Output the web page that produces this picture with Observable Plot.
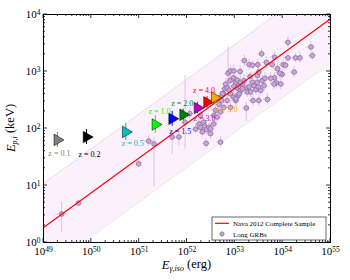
<!DOCTYPE html>
<html><head><meta charset="utf-8">
<script src="https://cdn.jsdelivr.net/npm/d3@7"></script>
<script src="https://cdn.jsdelivr.net/npm/@observablehq/plot@0.6"></script>
<style>
body{margin:0;background:#fff;}
#wrap{position:relative;width:350px;height:280px;}
</style></head><body><div id="wrap"></div>
<script>
// ---- Long GRB sample (log10 E_iso [erg], log10 Ep,i [keV])
const grbLogE = [49.38,49.73,50.99,51.20,51.31,51.69,51.83,51.96,52.06,52.18,52.25,52.28,52.35,52.37,52.41,52.46,52.49,52.32,52.40,52.28,
  52.56,52.60,52.67,52.70,52.72,52.76,52.79,52.81,52.84,52.86,52.91,52.98,52.90,52.97,53.02,52.98,53.05,52.91,52.98,52.84,
  52.77,52.70,52.63,52.56,52.91,53.02,53.07,53.12,53.09,53.16,53.19,53.25,53.26,53.20,53.30,53.32,53.37,53.40,53.44,53.47,
  53.50,53.38,53.24,53.48,53.56,53.66,53.68,53.57,53.61,53.54,53.78,53.83,53.83,53.87,53.96,53.99,53.94,54.01,54.06,54.11,
  54.11,54.24,54.27,54.36,54.59,54.62,53.89,53.82,53.75,53.63,53.47,53.49,53.11,53.37,53.05,53.12,53.30,53.33,52.88,53.50,
  52.74,53.02,53.09,53.16,52.49,52.70];
const grbLogEp = [0.50,0.69,1.38,1.78,1.73,1.85,1.85,2.11,2.26,1.99,2.08,2.02,2.11,2.04,1.98,2.02,1.99,1.94,1.74,2.23,
  2.23,2.32,2.42,2.55,2.49,2.61,2.70,2.78,2.71,2.97,3.01,3.01,2.84,2.89,2.81,2.74,2.71,2.61,2.55,2.49,
  2.37,2.29,2.20,2.08,2.37,2.49,2.58,2.67,2.75,2.78,2.84,2.71,2.64,3.19,3.12,2.91,2.81,2.75,2.68,2.81,
  2.49,2.49,2.36,3.12,3.31,3.16,2.51,2.84,2.75,2.67,3.12,3.25,2.89,2.80,2.78,2.95,2.97,3.12,3.11,3.51,
  3.24,2.99,3.24,3.24,3.43,3.28,3.05,2.78,2.88,2.88,2.93,2.73,3.00,3.11,2.85,2.81,2.73,2.64,2.67,2.99,
  2.61,2.52,2.61,2.70,1.91,1.76];
const grbErrEpLo = [0.32,0.04,0.06,0.10,0.76,0.30,0.15,0.47,0.10,0.08,0.08,0.10,0.08,0.10,0.08,0.08,0.10,0.10,0.08,0.10,
  0.08,0.10,0.08,0.10,0.10,0.10,0.08,0.10,0.10,0.42,0.08,0.10,0.10,0.08,0.10,0.10,0.08,0.10,0.10,0.10,
  0.10,0.10,0.10,0.10,0.10,0.10,0.10,0.10,0.10,0.08,0.10,0.10,0.10,0.10,0.10,0.08,0.10,0.10,0.10,0.08,
  0.10,0.10,0.24,0.10,0.08,0.10,0.10,0.10,0.10,0.10,0.08,0.10,0.10,0.10,0.10,0.08,0.10,0.10,0.08,0.10,
  0.08,0.10,0.08,0.10,0.10,0.08,0.10,0.10,0.10,0.10,0.08,0.10,0.10,0.08,0.10,0.10,0.10,0.10,0.10,0.10,
  0.10,0.10,0.10,0.10,0.10,0.10];
const grbErrEpHi = [0.21,0.04,0.06,0.10,0.12,0.10,0.10,0.82,0.10,0.08,0.08,0.10,0.08,0.10,0.08,0.08,0.10,0.10,0.08,0.10,
  0.08,0.10,0.08,0.10,0.10,0.10,0.08,0.10,0.10,0.46,0.08,0.10,0.10,0.08,0.10,0.10,0.08,0.10,0.10,0.10,
  0.10,0.10,0.10,0.10,0.10,0.10,0.10,0.10,0.10,0.08,0.10,0.10,0.10,0.10,0.10,0.08,0.10,0.10,0.10,0.08,
  0.10,0.10,0.10,0.10,0.08,0.10,0.10,0.10,0.10,0.10,0.08,0.10,0.10,0.10,0.10,0.08,0.10,0.10,0.08,0.10,
  0.08,0.10,0.08,0.10,0.10,0.08,0.10,0.10,0.10,0.10,0.08,0.10,0.10,0.08,0.10,0.10,0.10,0.10,0.10,0.10,
  0.10,0.10,0.10,0.10,0.10,0.10];
const grbErrE = [0.13,0.04,0.04,0.10,0.10,0.08,0.08,0.08,0.08,0.08,0.08,0.08,0.08,0.08,0.08,0.08,0.08,0.08,0.08,0.08,
  0.08,0.08,0.08,0.08,0.08,0.08,0.08,0.08,0.08,0.08,0.08,0.08,0.08,0.08,0.08,0.08,0.08,0.08,0.08,0.08,
  0.08,0.08,0.08,0.08,0.08,0.08,0.08,0.08,0.08,0.08,0.08,0.08,0.08,0.08,0.08,0.08,0.08,0.08,0.08,0.08,
  0.08,0.08,0.08,0.08,0.08,0.08,0.08,0.08,0.08,0.08,0.08,0.08,0.08,0.08,0.08,0.08,0.08,0.08,0.08,0.08,
  0.08,0.08,0.08,0.08,0.10,0.08,0.08,0.08,0.08,0.08,0.08,0.08,0.08,0.08,0.08,0.08,0.08,0.08,0.08,0.08,
  0.08,0.08,0.08,0.08,0.08,0.08];

// ---- redshift-shifted burst (triangles)
const zLabels = ["z = 0.1","z = 0.2","z = 0.5","z = 1.0","z = 1.5","z = 2.0","z = 3.0","z = 4.0","z = 5.0"];
const zLogE  = [49.29,49.90,50.72,51.34,51.69,51.92,52.22,52.42,52.58];
const zLogEp = [1.80,1.85,1.94,2.07,2.17,2.24,2.36,2.46,2.54];
const zErrEp = [0.13,0.13,0.15,0.15,0.13,0.10,0.10,0.10,0.10];
// styling for the triangles / labels
const zColors = ["#808080","#000000","#00bfbf","#00ff00","#0000ff","#008000","#bf00bf","#ff0000","#ffa500"];
const zLabelOffsets = [[2,14],[3,17],[7,12],[4,-13],[8,13],[-1,-11],[7,10],[-3,-12],[12,12]];

// ---- Nava 2012 relation
const fitLogE = [49, 55];
const fitNorm = 0.263, fitSlope = 0.61, fitBand = 0.77;

const xTicks = [49,50,51,52,53,54,55];
const yTicks = [0,1,2,3,4];

const grb = grbLogE.map((e,i)=>({
  E: 10**e, Ep: 10**grbLogEp[i],
  epLo: 10**(grbLogEp[i]-grbErrEpLo[i]), epHi: 10**(grbLogEp[i]+grbErrEpHi[i]),
  eLo: 10**(e-grbErrE[i]), eHi: 10**(e+grbErrE[i])
}));
const tri = zLogE.map((e,i)=>({E:10**e, Ep:10**zLogEp[i], lo:10**(zLogEp[i]-zErrEp[i]), hi:10**(zLogEp[i]+zErrEp[i]), color: zColors[i], label: zLabels[i]}));
const fit = fitLogE.map(le=>{const m = fitNorm + fitSlope*(le-49); return {E:10**le, Ep:10**m, lo:10**(m-fitBand), hi:10**(m+fitBand)};});

const serif = "'Liberation Serif', 'DejaVu Serif', serif";
const labelMarks = tri.map((t,i)=>Plot.text([t], {x:"E", y:"Ep", text:"label", fill: zColors[i], dx: zLabelOffsets[i][0], dy: zLabelOffsets[i][1], fontSize: 8, fontFamily: serif}));

const plot = Plot.plot({
  width: 350, height: 280,
  marginLeft: 43, marginRight: 20, marginTop: 14, marginBottom: 38,
  x: {type:"log", domain:[1e49,1e55]},
  y: {type:"log", domain:[1,1e4]},
  style: {fontFamily: serif, background:"#fff"},
  marks: [
    Plot.areaY(fit, {x:"E", y1:"lo", y2:"hi", fill:"#fbf0fb", clip:true}),
    Plot.line(fit, {x:"E", y:"hi", stroke:"#e6dce6", strokeWidth:0.8, clip:true}),
    Plot.line(fit, {x:"E", y:"lo", stroke:"#e6dce6", strokeWidth:0.8, clip:true}),
    Plot.ruleX(grb, {x:"E", y1:"epLo", y2:"epHi", stroke:"#dcb4e2", strokeWidth:0.8, clip:true}),
    Plot.ruleY(grb, {y:"Ep", x1:"eLo", x2:"eHi", stroke:"#dcb4e2", strokeWidth:0.8, clip:true}),
    Plot.dot(grb, {x:"E", y:"Ep", r:2.4, fill:"#c4a6d6", stroke:"#7f5a92", strokeWidth:0.6}),
    Plot.line(fit, {x:"E", y:"Ep", stroke:"#ff0000", strokeWidth:1.1, clip:true}),
    Plot.ruleX(tri, {x:"E", y1:"lo", y2:"hi", stroke:"color", strokeWidth:1}),
    Plot.dot(tri, {x:"E", y:"Ep", symbol:"triangle", rotate:90, r:4.3, fill:"color", stroke:"#000", strokeWidth:0.5}),
    ...labelMarks,
    Plot.frame({stroke:"#000", strokeWidth:1}),
    Plot.axisX(xTicks.map(d=>10**d), {tickSize:0, tickPadding:5, fontSize:11, label:null, tickFormat: d=>"10^"+Math.round(Math.log10(d))}),
    Plot.axisY(yTicks.map(d=>10**d), {tickSize:0, tickPadding:3, fontSize:11, label:null, tickFormat: d=>"10^"+Math.round(Math.log10(d))})
  ]
});

const svg = d3.select(plot);
// superscript exponents
svg.selectAll('g[aria-label="x-axis tick label"] text, g[aria-label="y-axis tick label"] text').each(function(){
  const s = d3.select(this); const t = s.text(); if (!t.includes("^")) return;
  const [b, e] = t.split("^");
  s.text("");
  s.append("tspan").text(b);
  s.append("tspan").attr("dy","-0.45em").attr("font-size","7.5px").text(e);
});
// inward ticks on all four sides, through the plot scales
const sx = plot.scale("x"), sy = plot.scale("y");
const x0 = sx.apply(1e49), x1 = sx.apply(1e55), y0 = sy.apply(1), y1 = sy.apply(1e4);
const tg = svg.append("g").attr("stroke","#000").attr("stroke-width",0.8);
function ticksFor(decades){ const out=[]; decades.forEach((d,i)=>{ out.push({v:10**d, major:true}); if(i<decades.length-1) for(let k=2;k<10;k++) out.push({v:k*10**d, major:false}); }); return out; }
ticksFor(xTicks).forEach(t=>{ const X = sx.apply(t.v), L = t.major?4:2;
  tg.append("line").attr("x1",X).attr("x2",X).attr("y1",y0).attr("y2",y0-L);
  tg.append("line").attr("x1",X).attr("x2",X).attr("y1",y1).attr("y2",y1+L); });
ticksFor(yTicks).forEach(t=>{ const Y = sy.apply(t.v), L = t.major?4:2;
  tg.append("line").attr("y1",Y).attr("y2",Y).attr("x1",x0).attr("x2",x0+L);
  tg.append("line").attr("y1",Y).attr("y2",Y).attr("x1",x1).attr("x2",x1-L); });
// axis titles
const xt = svg.append("text").attr("x",(x0+x1)/2).attr("y",269).attr("text-anchor","middle").attr("font-size",12.5).attr("font-family",serif);
xt.append("tspan").attr("font-style","italic").text("E");
xt.append("tspan").attr("dy","0.3em").attr("font-size","8px").attr("font-style","italic").text("γ,iso");
xt.append("tspan").attr("dy","-0.3em").text(" (erg)");
const yt = svg.append("text").attr("transform",`translate(15,${(y0+y1)/2}) rotate(-90)`).attr("text-anchor","middle").attr("font-size",12.5).attr("font-family",serif);
yt.append("tspan").attr("font-style","italic").text("E");
yt.append("tspan").attr("dy","0.3em").attr("font-size","8px").attr("font-style","italic").text("p,i");
yt.append("tspan").attr("dy","-0.3em").text(" (keV)");
// legend
const lg = svg.append("g").attr("font-family",serif).attr("font-size",7).attr("text-anchor","start");
lg.append("rect").attr("x",212).attr("y",217).attr("width",114).attr("height",23).attr("fill","#fff").attr("stroke","#444").attr("stroke-width",0.8);
lg.append("line").attr("x1",215).attr("x2",229).attr("y1",223.3).attr("y2",223.3).attr("stroke","#ff0000").attr("stroke-width",1.2);
lg.append("text").attr("x",233).attr("y",225.7).text("Nava 2012 Complete Sample");
lg.append("line").attr("x1",222).attr("x2",222).attr("y1",231).attr("y2",237).attr("stroke","#dcb4e2");
lg.append("line").attr("x1",219).attr("x2",225).attr("y1",234).attr("y2",234).attr("stroke","#dcb4e2");
lg.append("circle").attr("cx",222).attr("cy",234).attr("r",2).attr("fill","#c4a6d6").attr("stroke","#7f5a92").attr("stroke-width",0.6);
lg.append("text").attr("x",233).attr("y",236.5).text("Long GRBs");

document.getElementById("wrap").appendChild(plot);
</script></body></html>
